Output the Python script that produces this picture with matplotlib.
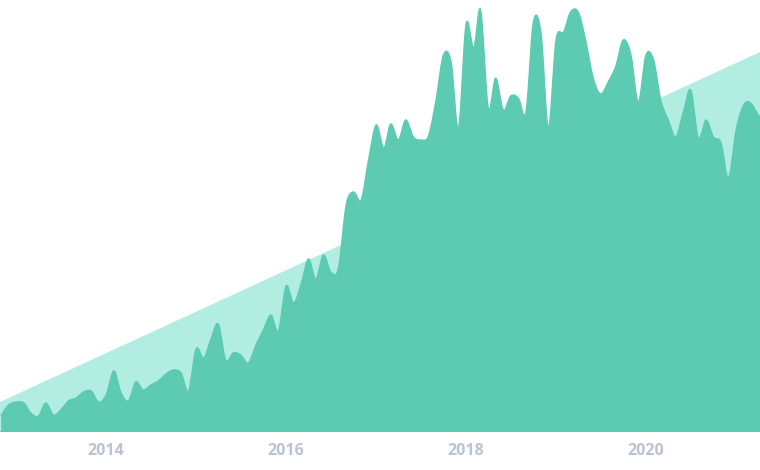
import numpy as np
import pandas as pd
import matplotlib
matplotlib.use("Agg")
import matplotlib.pyplot as plt
import matplotlib.dates as mdates

# ---- data (monthly values, Nov 2012 onward) ----
start_month = "2012-11-01"
values = [17, 27, 30, 29, 19, 16, 29, 17, 22, 31,
          34, 40, 41, 30, 37, 61, 40, 31, 50, 42,
          47, 51, 58, 62, 59, 41, 83, 74, 92, 108,
          72, 79, 77, 69, 87, 102, 117, 101, 146, 129,
          147, 173, 153, 177, 160, 164, 227, 240, 232, 272,
          307, 284, 308, 292, 312, 295, 292, 296, 332, 377,
          370, 304, 408, 384, 422, 324, 354, 322, 336, 334,
          320, 410, 399, 304, 392, 400, 420, 420, 392, 354,
          338, 350, 366, 392, 377, 330, 377, 372, 332, 312,
          295, 320, 342, 294, 312, 295, 289, 254, 302, 327,
          329, 317, 307]
trend_values = [30, 380]
x_range = ["2012-10-27", "2021-04-08"]
tick_years = ["2014", "2016", "2018", "2020"]

dates = pd.date_range(start_month, periods=len(values), freq="MS")
xnum = mdates.date2num(dates.to_pydatetime())
y = np.array(values, dtype=float)

# Catmull-Rom smoothing for rendering
def catmull_rom(x, y, n=20):
    xp = np.concatenate([[2 * x[0] - x[1]], x, [2 * x[-1] - x[-2]]])
    yp = np.concatenate([[2 * y[0] - y[1]], y, [2 * y[-1] - y[-2]]])
    xs, ys = [], []
    t = np.linspace(0, 1, n, endpoint=False)
    for i in range(1, len(xp) - 2):
        p0, p1, p2, p3 = yp[i - 1], yp[i], yp[i + 1], yp[i + 2]
        q0, q1, q2, q3 = xp[i - 1], xp[i], xp[i + 1], xp[i + 2]
        f = lambda a, b, c, d: 0.5 * ((2 * b) + (-a + c) * t + (2 * a - 5 * b + 4 * c - d) * t**2 + (-a + 3 * b - 3 * c + d) * t**3)
        xs.append(f(q0, q1, q2, q3))
        ys.append(f(p0, p1, p2, p3))
    xs.append([x[-1]])
    ys.append([y[-1]])
    return np.concatenate(xs), np.concatenate(ys)

xs, ys = catmull_rom(xnum, y)
ys = np.clip(ys, 0, None)

W, H = 760, 470
fig = plt.figure(figsize=(W / 100, H / 100), dpi=100)
ax = fig.add_axes([0, 38 / H, 1, 432 / H])

xr = mdates.date2num(pd.to_datetime(x_range).to_pydatetime())
ax.fill_between(xr, [0, 0], trend_values, color="#b2ede2", lw=0, zorder=1)
ax.fill_between(xs, 0, ys, color="#5ccbb2", lw=0, zorder=2)
ax.plot(xs, ys, color="#5ccbb2", lw=1, zorder=3)
ax.axhline(0, color="#5ccbb2", lw=2, zorder=4)

ax.set_xlim(xr[0], xr[1])
ax.set_ylim(0, 432)
ticks = mdates.date2num(pd.to_datetime([f"{t}-01-01" for t in tick_years]).to_pydatetime())
ax.set_xticks(ticks)
ax.set_xticklabels(tick_years, fontfamily="Open Sans", fontweight="bold", fontsize=11.5, color="#b9c3d3")
ax.tick_params(axis="x", length=0, pad=8)
ax.set_yticks([])
for s in ax.spines.values():
    s.set_visible(False)
ax.set_facecolor("white")
fig.savefig("out.png", dpi=100)
